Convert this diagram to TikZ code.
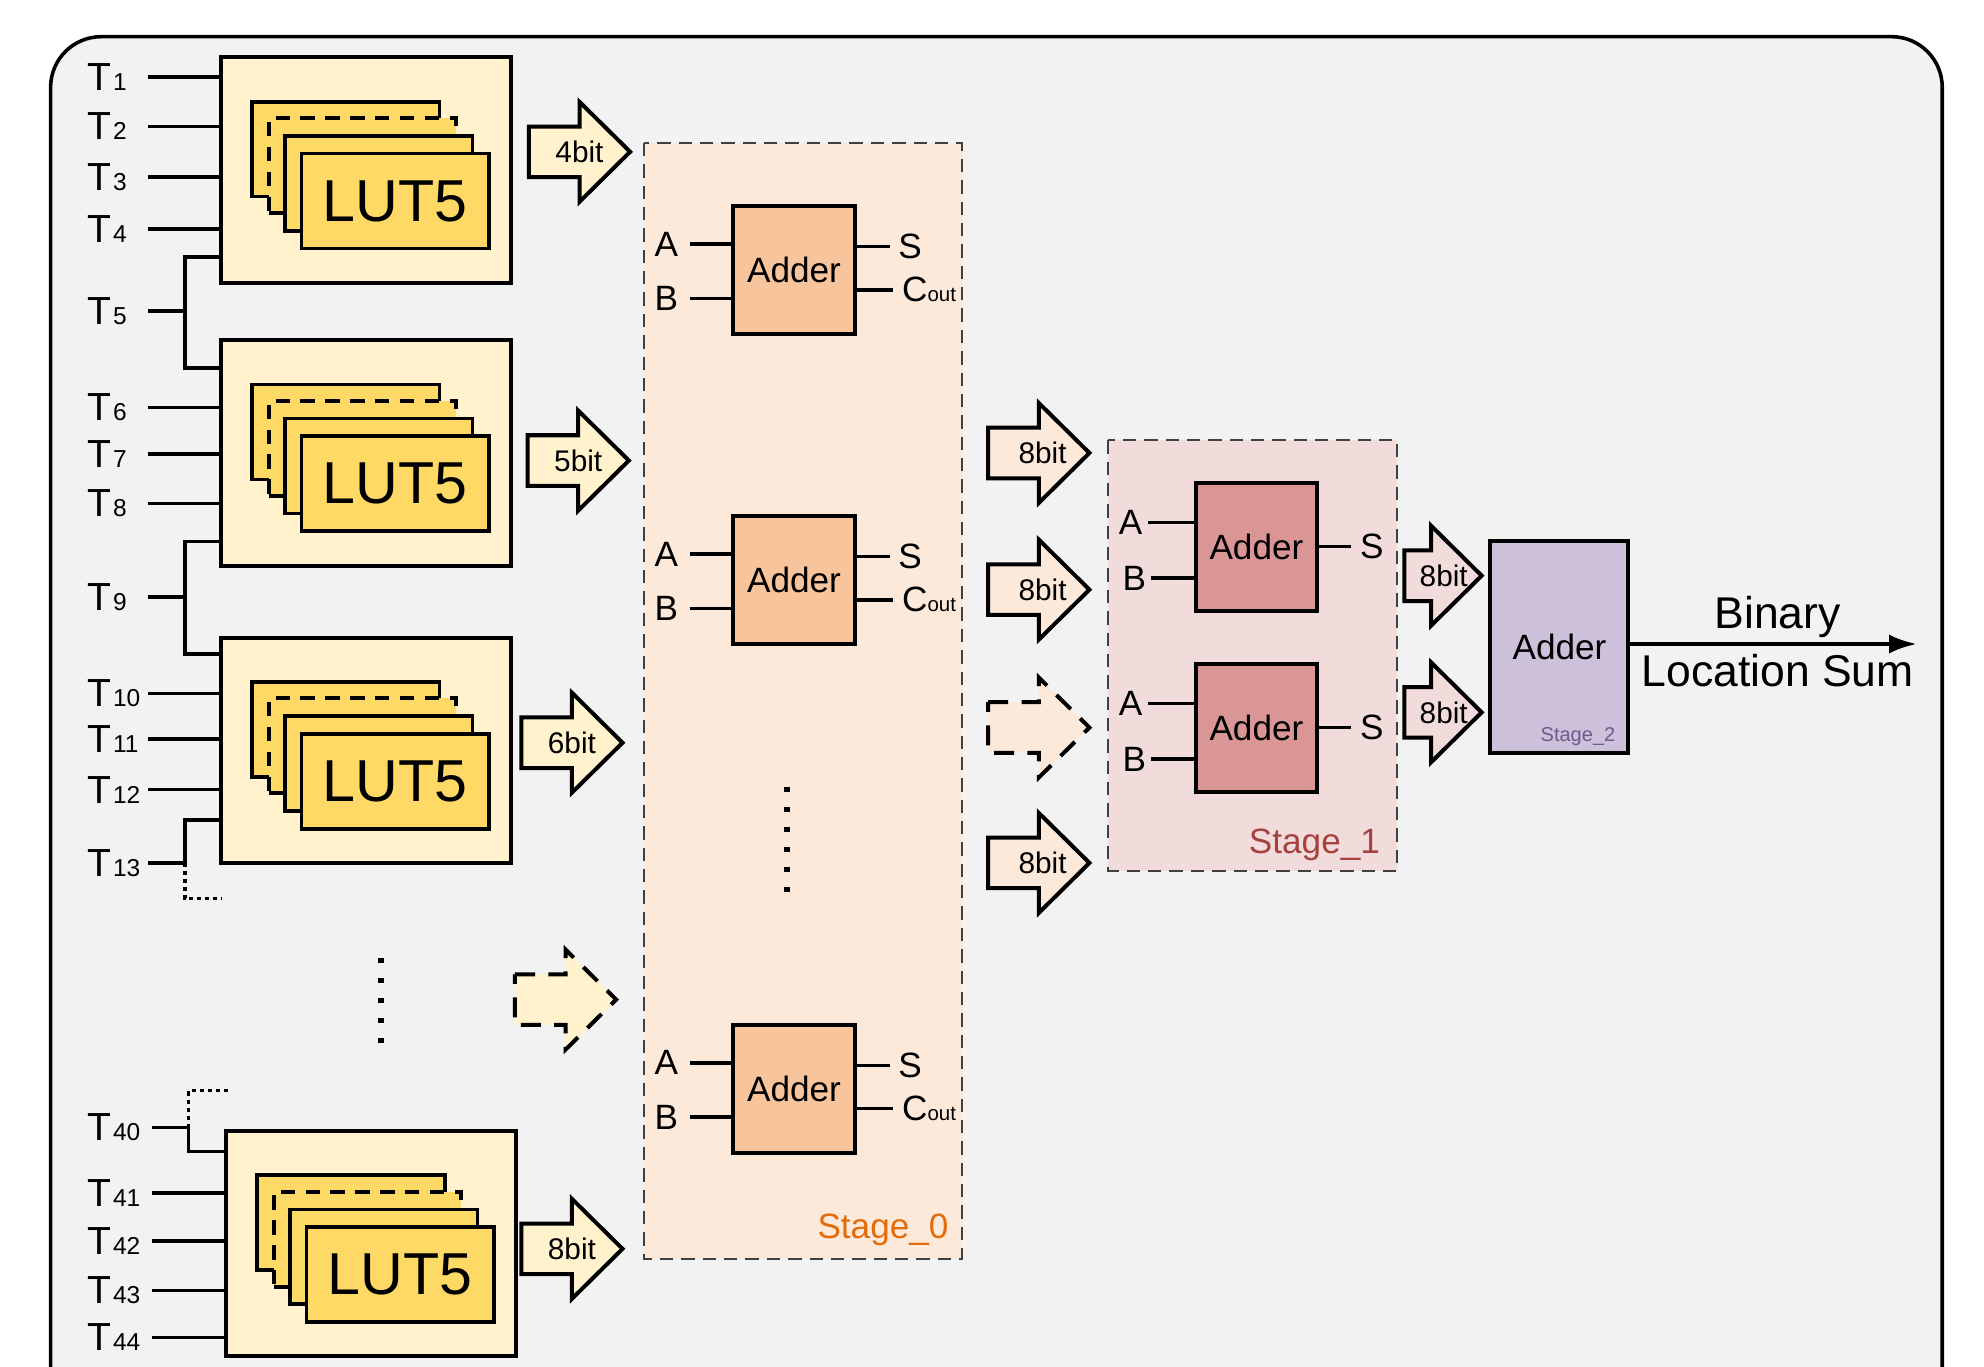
\documentclass[tikz,border=0pt]{standalone}
\usepackage{fontspec}
\setmainfont{Liberation Sans}
\usetikzlibrary{arrows.meta}
\definecolor{panelgray}{HTML}{F2F2F2}
\definecolor{lutpale}{HTML}{FFF2CC}
\definecolor{lutgold}{HTML}{FFD966}
\definecolor{stzero}{HTML}{FCE9DA}
\definecolor{addzero}{HTML}{F8C49C}
\definecolor{stone}{HTML}{F2DCDB}
\definecolor{addone}{HTML}{DA9694}
\definecolor{addtwo}{HTML}{CCC0DA}
\definecolor{txtzero}{HTML}{E46C0A}
\definecolor{txtone}{HTML}{A5423F}
\definecolor{txttwo}{HTML}{6F5A8C}
\newcommand{\Tsub}[1]{\kern0.3pt{\fontsize{5.5}{6}\selectfont #1}}
\newcommand{\Cout}{C{\fontsize{4.6}{6}\selectfont out}}

\begin{document}
\begin{tikzpicture}[x=0.01cm, y=-0.01cm, line width=0.8pt,
    lutbox/.style={draw, fill=lutpale, line width=0.9pt, minimum width=2.29cm, minimum height=1.78cm, inner sep=0},
    card/.style={draw, fill=lutgold, line width=0.85pt, minimum width=1.48cm, minimum height=0.75cm, inner sep=0},
    tlabel/.style={anchor=west, inner sep=0, font=\fontsize{8.8}{10}\selectfont},
    adder/.style={draw, line width=0.9pt, minimum width=0.97cm, minimum height=1.01cm, inner sep=0, font=\fontsize{7.9}{9}\selectfont},
    pinl/.style={anchor=east, inner xsep=2.2pt, inner ysep=0, font=\fontsize{7.9}{9}\selectfont},
    pinr/.style={anchor=west, inner xsep=1.6pt, inner ysep=0, font=\fontsize{7.9}{9}\selectfont},
    bittext/.style={inner sep=0, font=\fontsize{6.7}{8}\selectfont},
    stage/.style={draw=black!75, line width=0.45pt, dash pattern=on 3pt off 1.8pt},
    fatarrow/.style={insert path={++(-#1,-20) -- ++(#1,0) -- ++(0,-19.5) -- ++(40,39.5) -- ++(-40,39.5) -- ++(0,-19.5) -- ++(-#1,0) -- cycle}},
    fatarrow/.default=40,
    dotline/.style={line width=0.8pt, dash pattern=on 0.9pt off 0.9pt},
    dotcol/.style={line width=1.2pt, dash pattern=on 1.2pt off 3.3pt}]

    \useasboundingbox (0,0) rectangle (1568,1080);
    \clip (0,0) rectangle (1568,1080);
    \fill[white] (0,0) rectangle (1568,1080);
    \draw[fill=panelgray, line width=0.8pt, rounded corners=0.4cm] (40,29) rectangle (1535,1120);

    % stage frames
    \draw[stage, fill=stzero] (509,113) rectangle (760,995);
    \draw[stage, fill=stone] (876,348) rectangle (1104,688);
    \node[anchor=east, inner sep=0, text=txtzero, font=\fontsize{7.9}{9}\selectfont] (stage0) at (751,972) {Stage\_0};
    \node[anchor=east, inner sep=0, text=txtone, font=\fontsize{7.9}{9}\selectfont] (stage1) at (1092,668) {Stage\_1};

    % LUT blocks
    \node[lutbox] (lut1) at (289.5,134.5) {};
    \node[lutbox] (lut2) at (289.5,358) {};
    \node[lutbox] (lut3) at (289.5,593) {};
    \node[lutbox] (lut4) at (293.5,983) {};

    \node[card] (lut1a) at ([shift={(100,74)}]lut1.north west) {};
    \node[card, dash pattern=on 3.2pt off 2.4pt] (lut1b) at ([shift={(113,87)}]lut1.north west) {};
    \node[card] (lut1c) at ([shift={(126,101)}]lut1.north west) {};
    \node[card, font=\fontsize{13.3}{15}\selectfont] (lut1d) at ([shift={(139,115)}]lut1.north west) {LUT5};

    \node[card] (lut2a) at ([shift={(100,74)}]lut2.north west) {};
    \node[card, dash pattern=on 3.2pt off 2.4pt] (lut2b) at ([shift={(113,87)}]lut2.north west) {};
    \node[card] (lut2c) at ([shift={(126,101)}]lut2.north west) {};
    \node[card, font=\fontsize{13.3}{15}\selectfont] (lut2d) at ([shift={(139,115)}]lut2.north west) {LUT5};

    \node[card] (lut3a) at ([shift={(100,74)}]lut3.north west) {};
    \node[card, dash pattern=on 3.2pt off 2.4pt] (lut3b) at ([shift={(113,87)}]lut3.north west) {};
    \node[card] (lut3c) at ([shift={(126,101)}]lut3.north west) {};
    \node[card, font=\fontsize{13.3}{15}\selectfont] (lut3d) at ([shift={(139,115)}]lut3.north west) {LUT5};

    \node[card] (lut4a) at ([shift={(100,74)}]lut4.north west) {};
    \node[card, dash pattern=on 3.2pt off 2.4pt] (lut4b) at ([shift={(113,87)}]lut4.north west) {};
    \node[card] (lut4c) at ([shift={(126,101)}]lut4.north west) {};
    \node[card, font=\fontsize{13.3}{15}\selectfont] (lut4d) at ([shift={(139,115)}]lut4.north west) {LUT5};

    % inputs
    \coordinate (lx) at (117,0);
    \coordinate (lxb) at (120,0);
    \node[tlabel] (t1) at (68,61) {T\Tsub{1}};
    \node[tlabel] (t2) at (68,100) {T\Tsub{2}};
    \node[tlabel] (t3) at (68,140) {T\Tsub{3}};
    \node[tlabel] (t4) at (68,181) {T\Tsub{4}};
    \node[tlabel] (t5) at (68,246) {T\Tsub{5}};
    \node[tlabel] (t6) at (68,322) {T\Tsub{6}};
    \node[tlabel] (t7) at (68,359) {T\Tsub{7}};
    \node[tlabel] (t8) at (68,398) {T\Tsub{8}};
    \node[tlabel] (t9) at (68,472) {T\Tsub{9}};
    \node[tlabel] (t10) at (68,548) {T\Tsub{10}};
    \node[tlabel] (t11) at (68,584) {T\Tsub{11}};
    \node[tlabel] (t12) at (68,624) {T\Tsub{12}};
    \node[tlabel] (t13) at (68,682) {T\Tsub{13}};
    \node[tlabel] (t40) at (68,891) {T\Tsub{40}};
    \node[tlabel] (t41) at (68,943) {T\Tsub{41}};
    \node[tlabel] (t42) at (68,981) {T\Tsub{42}};
    \node[tlabel] (t43) at (68,1020) {T\Tsub{43}};
    \node[tlabel] (t44) at (68,1057) {T\Tsub{44}};

    \draw (t1 -| lx) -- (t1 -| lut1.west);
    \draw (t2 -| lx) -- (t2 -| lut1.west);
    \draw (t3 -| lx) -- (t3 -| lut1.west);
    \draw (t4 -| lx) -- (t4 -| lut1.west);
    \draw (t6 -| lx) -- (t6 -| lut2.west);
    \draw (t7 -| lx) -- (t7 -| lut2.west);
    \draw (t8 -| lx) -- (t8 -| lut2.west);
    \draw (t10 -| lx) -- (t10 -| lut3.west);
    \draw (t11 -| lx) -- (t11 -| lut3.west);
    \draw (t12 -| lx) -- (t12 -| lut3.west);
    \draw (t41 -| lxb) -- (t41 -| lut4.west);
    \draw (t42 -| lxb) -- (t42 -| lut4.west);
    \draw (t43 -| lxb) -- (t43 -| lut4.west);
    \draw (t44 -| lxb) -- (t44 -| lut4.west);

    % shared inputs
    \coordinate (j5t) at (146,203);
    \coordinate (j5b) at (146,291);
    \coordinate (j9t) at (146,428);
    \coordinate (j9b) at (146,517);
    \coordinate (j13t) at (146,648);
    \coordinate (j13) at (146,682);
    \coordinate (j13e) at (175,710);
    \coordinate (j40e) at (180,862);
    \coordinate (j40) at (149,891);
    \coordinate (j40b) at (149,910);
    \draw (t5 -| lx) -- (t5 -| j5t);
    \draw (j5t -| lut1.west) -| (j5b) -- (j5b -| lut2.west);
    \draw (t9 -| lx) -- (t9 -| j9t);
    \draw (j9t -| lut2.west) -| (j9b) -- (j9b -| lut3.west);
    \draw (t13 -| lx) -- (j13);
    \draw (j13t -| lut3.west) -| (j13);
    \draw[dotline] (j13) |- (j13e);
    \draw[dotline] (j40e) -| (j40);
    \draw (t40 -| lxb) -- (j40) |- (j40b -| lut4.west);

    \coordinate (dots1a) at (301,757);
    \coordinate (dots1b) at (301,826);
    \draw[dotcol] (dots1a) -- (dots1b);

    % LUT outputs
    \coordinate (ar1) at (458,120);
    \coordinate (ar2) at (457,364);
    \coordinate (ar3) at (452,587);
    \coordinate (ar4) at (447,790);
    \coordinate (ar5) at (452,987);
    \draw[fill=lutpale, line width=0.9pt] (ar1) [fatarrow];
    \draw[fill=lutpale, line width=0.9pt] (ar2) [fatarrow];
    \draw[fill=lutpale, line width=0.9pt] (ar3) [fatarrow];
    \draw[fill=lutpale, line width=0.9pt, dash pattern=on 4.5pt off 3pt] (ar4) [fatarrow];
    \draw[fill=lutpale, line width=0.9pt] (ar5) [fatarrow];
    \node[bittext] (ar1t) at (ar1) {4bit};
    \node[bittext] (ar2t) at (ar2) {5bit};
    \node[bittext] (ar3t) at (ar3) {6bit};
    \node[bittext] (ar5t) at (ar5) {8bit};

    % Stage_0 adders
    \node[adder, fill=addzero] (add0a) at (627.5,213.5) {Adder};
    \node[adder, fill=addzero] (add0b) at (627.5,458.5) {Adder};
    \node[adder, fill=addzero] (add0c) at (627.5,860.5) {Adder};

    \node[pinl] (a0aA) at (545,193) {A};
    \node[pinl] (a0aB) at (545,236) {B};
    \node[pinr] (a0aS) at (703,195) {S};
    \node[pinr] (a0aC) at (706,229) {\Cout};
    \node[pinl] (a0bA) at (545,438) {A};
    \node[pinl] (a0bB) at (545,481) {B};
    \node[pinr] (a0bS) at (703,440) {S};
    \node[pinr] (a0bC) at (706,474) {\Cout};
    \node[pinl] (a0cA) at (545,840) {A};
    \node[pinl] (a0cB) at (545,883) {B};
    \node[pinr] (a0cS) at (703,842) {S};
    \node[pinr] (a0cC) at (706,876) {\Cout};

    \draw (a0aA.east) -- (a0aA.east -| add0a.west);
    \draw (a0aB.east) -- (a0aB.east -| add0a.west);
    \draw (add0a.east |- a0aS.west) -- (a0aS.west);
    \draw (add0a.east |- a0aC.west) -- (a0aC.west);
    \draw (a0bA.east) -- (a0bA.east -| add0b.west);
    \draw (a0bB.east) -- (a0bB.east -| add0b.west);
    \draw (add0b.east |- a0bS.west) -- (a0bS.west);
    \draw (add0b.east |- a0bC.west) -- (a0bC.west);
    \draw (a0cA.east) -- (a0cA.east -| add0c.west);
    \draw (a0cB.east) -- (a0cB.east -| add0c.west);
    \draw (add0c.east |- a0cS.west) -- (a0cS.west);
    \draw (add0c.east |- a0cC.west) -- (a0cC.west);

    \coordinate (dots0a) at (622,622);
    \coordinate (dots0b) at (622,711);
    \draw[dotcol] (dots0a) -- (dots0b);

    % Stage_0 outputs
    \coordinate (br1) at (821,358);
    \coordinate (br2) at (821,466);
    \coordinate (br3) at (821,575);
    \coordinate (br4) at (821,682);
    \draw[fill=stzero, line width=0.9pt] (br1) [fatarrow];
    \draw[fill=stzero, line width=0.9pt] (br2) [fatarrow];
    \draw[fill=stzero, line width=0.9pt, dash pattern=on 4.5pt off 3pt] (br3) [fatarrow];
    \draw[fill=stzero, line width=0.9pt] (br4) [fatarrow];
    \node[bittext] (br1t) at ([xshift=0.03cm]br1) {8bit};
    \node[bittext] (br2t) at ([xshift=0.03cm]br2) {8bit};
    \node[bittext] (br4t) at ([xshift=0.03cm]br4) {8bit};

    % Stage_1 adders
    \node[adder, fill=addone, minimum width=0.96cm] (add1a) at (993,432.5) {Adder};
    \node[adder, fill=addone, minimum width=0.96cm] (add1b) at (993,575.5) {Adder};
    \node[pinl, inner xsep=0.8pt] (a1aA) at (907,413) {A};
    \node[pinl, inner xsep=0.8pt] (a1aB) at (910,457) {B};
    \node[pinr] (a1aS) at (1068,432) {S};
    \node[pinl, inner xsep=0.8pt] (a1bA) at (907,556) {A};
    \node[pinl, inner xsep=0.8pt] (a1bB) at (910,600) {B};
    \node[pinr] (a1bS) at (1068,575) {S};
    \draw (a1aA.east) -- (a1aA.east -| add1a.west);
    \draw (a1aB.east) -- (a1aB.east -| add1a.west);
    \draw (add1a.east |- a1aS.west) -- (a1aS.west);
    \draw (a1bA.east) -- (a1bA.east -| add1b.west);
    \draw (a1bB.east) -- (a1bB.east -| add1b.west);
    \draw (add1b.east |- a1bS.west) -- (a1bS.west);

    % Stage_1 outputs
    \coordinate (cr1) at (1131,455);
    \coordinate (cr2) at (1131,563);
    \draw[fill=stone, line width=0.9pt] (cr1) [fatarrow=21];
    \draw[fill=stone, line width=0.9pt] (cr2) [fatarrow=21];
    \node[bittext] (cr1t) at ([xshift=0.1cm]cr1) {8bit};
    \node[bittext] (cr2t) at ([xshift=0.1cm]cr2) {8bit};

    % Stage_2
    \node[adder, fill=addtwo, minimum width=1.09cm, minimum height=1.67cm] (add2) at (1232.5,511.5) {Adder};
    \node[anchor=east, inner sep=0, text=txttwo, font=\fontsize{4.5}{5}\selectfont] (stage2) at (1278,582) {Stage\_2};

    \coordinate (sumend) at (1515,509);
    \draw[-{Latex[length=0.22cm,width=0.15cm]}, line width=0.9pt] (add2.east |- sumend) -- (sumend);
    \node[inner sep=0, font=\fontsize{10}{12}\selectfont] (sum1) at (1405,488) {Binary};
    \node[inner sep=0, font=\fontsize{10}{12}\selectfont] (sum2) at (1405,530) {Location Sum};
\end{tikzpicture}
\end{document}
